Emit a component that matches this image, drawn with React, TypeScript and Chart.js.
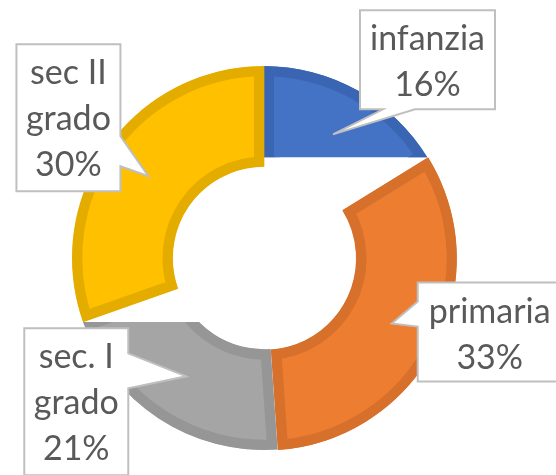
import React, { useEffect, useRef } from "react";
import { Chart, registerables } from "chart.js";

Chart.register(...registerables);

// ---- data ----
const categories = ["infanzia", "primaria", "sec. I grado", "sec II grado"];
const labelLines = [["infanzia"], ["primaria"], ["sec. I", "grado"], ["sec II", "grado"]];
const shares = [16.2, 32.7, 20.7, 30.4];
const fillColors = ["#4472C4", "#ED7D31", "#A5A5A5", "#FFC000"];
const edgeColors = ["#3A65B2", "#D6702B", "#969696", "#E5AC00"];
const sliceOffsets = [0, 4, 0, 0];
// clip rule per slice (reproduces the flat edges seen in the reference)
const clipRules = ["above", "none", "below", "none"];

// ---- callout layout (box relative to the slice centroid) ----
type Callout = { dx: number; dy: number; w: number; h: number; side: string; b1: number; b2: number };
const callouts: Callout[] = [
  { dx: 27, dy: -124, w: 135, h: 99, side: "bottom", b1: 23, b2: 55 },
  { dx: 26, dy: -41, w: 144, h: 99, side: "left", b1: 19, b2: 44 },
  { dx: -162, dy: -48, w: 104, h: 147, side: "right", b1: 25, b2: 60 },
  { dx: -132, dy: -132, w: 104, h: 147, side: "right", b1: 92, b2: 122 },
];

const FONT = "34px Lato, 'Open Sans', sans-serif";
const LINE_H = 46;
const FIRST_BASE = 40;

const sliceClip = {
  id: "sliceClip",
  beforeDatasetDraw(chart: any, args: any) {
    const ctx = chart.ctx;
    const W = chart.width;
    const H = chart.height;
    args.meta.data.forEach((arc: any, i: number) => {
      const p = arc.getProps(["x", "y", "endAngle", "outerRadius"], true);
      const cornerY = p.y + Math.sin(p.endAngle) * p.outerRadius;
      ctx.save();
      if (clipRules[i] === "above") {
        ctx.beginPath();
        ctx.rect(0, 0, W, cornerY);
        ctx.clip();
      } else if (clipRules[i] === "below") {
        ctx.beginPath();
        ctx.rect(0, cornerY, W, H - cornerY);
        ctx.clip();
      }
      arc.draw(ctx, chart.chartArea);
      ctx.restore();
    });
    return false;
  },
};

const calloutPlugin = {
  id: "callouts",
  afterDatasetsDraw(chart: any) {
    const ctx = chart.ctx;
    const meta = chart.getDatasetMeta(0);
    const total = shares.reduce((a, b) => a + b, 0);
    meta.data.forEach((arc: any, i: number) => {
      const c = callouts[i];
      const tip = arc.getCenterPoint(true);
      const x = tip.x + c.dx;
      const y = tip.y + c.dy;
      const { w, h } = c;
      ctx.save();
      ctx.beginPath();
      ctx.moveTo(x, y);
      ctx.lineTo(x + w, y);
      if (c.side === "right") {
        ctx.lineTo(x + w, y + c.b1);
        ctx.lineTo(tip.x, tip.y);
        ctx.lineTo(x + w, y + c.b2);
      }
      ctx.lineTo(x + w, y + h);
      if (c.side === "bottom") {
        ctx.lineTo(x + c.b2, y + h);
        ctx.lineTo(tip.x, tip.y);
        ctx.lineTo(x + c.b1, y + h);
      }
      ctx.lineTo(x, y + h);
      if (c.side === "left") {
        ctx.lineTo(x, y + c.b2);
        ctx.lineTo(tip.x, tip.y);
        ctx.lineTo(x, y + c.b1);
      }
      ctx.closePath();
      ctx.fillStyle = "#FFFFFF";
      ctx.fill();
      ctx.lineWidth = 2;
      ctx.strokeStyle = "#BFBFBF";
      ctx.lineJoin = "miter";
      ctx.stroke();

      const lines = [...labelLines[i], Math.round((shares[i] / total) * 100) + "%"];
      ctx.fillStyle = "#595959";
      ctx.font = FONT;
      ctx.textAlign = "center";
      ctx.textBaseline = "alphabetic";
      lines.forEach((t, k) => {
        ctx.fillText(t, x + w / 2, y + FIRST_BASE + k * LINE_H);
      });
      ctx.restore();
    });
  },
};

export default function App() {
  const ref = useRef<HTMLCanvasElement | null>(null);
  useEffect(() => {
    if (!ref.current) return;
    const chart = new Chart(ref.current, {
      type: "doughnut",
      data: {
        labels: categories,
        datasets: [
          {
            data: shares,
            backgroundColor: fillColors,
            borderColor: edgeColors,
            borderWidth: 10,
            borderAlign: "inner",
            borderJoinStyle: "miter",
            offset: sliceOffsets,
            hoverOffset: 0,
          } as any,
        ],
      },
      options: {
        animation: false,
        responsive: true,
        maintainAspectRatio: false,
        radius: 192,
        cutout: 94,
        layout: { padding: { left: 0, right: 28, top: 58, bottom: 17 } },
        events: [],
        plugins: {
          legend: { display: false },
          tooltip: { enabled: false },
        },
      } as any,
      plugins: [sliceClip, calloutPlugin],
    });
    return () => chart.destroy();
  }, []);
  return (
    <div style={{ position: "fixed", left: 0, top: 0, width: 556, height: 475, background: "#fff" }}>
      <canvas ref={ref} />
    </div>
  );
}
